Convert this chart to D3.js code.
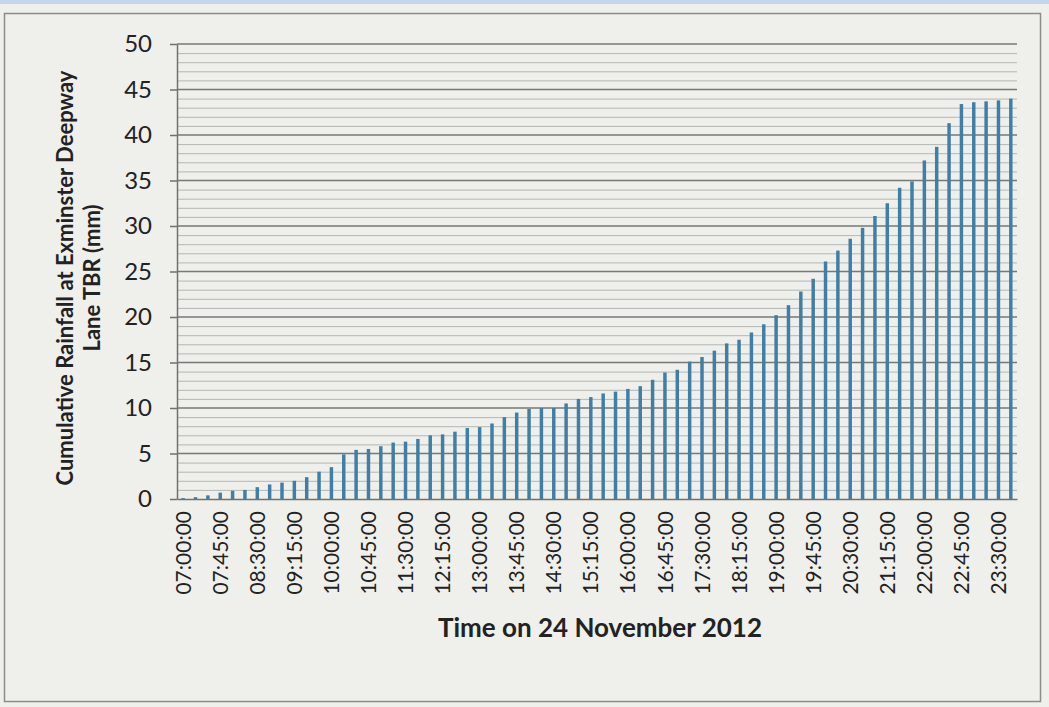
<!DOCTYPE html>
<html>
<head>
<meta charset="utf-8">
<script src="https://cdn.jsdelivr.net/npm/d3@7"></script>
<style>
  body { margin: 0; background: #efefeb; }
  svg { display: block; }
</style>
</head>
<body>
<div id="chart"></div>
<script>
(function(d3) {
    'use strict'

    // categories: 15 minute steps on 24 Nov 2012
    var times = [
        '07:00:00', '07:15:00', '07:30:00', '07:45:00', '08:00:00', '08:15:00', '08:30:00', '08:45:00',
        '09:00:00', '09:15:00', '09:30:00', '09:45:00', '10:00:00', '10:15:00', '10:30:00', '10:45:00',
        '11:00:00', '11:15:00', '11:30:00', '11:45:00', '12:00:00', '12:15:00', '12:30:00', '12:45:00',
        '13:00:00', '13:15:00', '13:30:00', '13:45:00', '14:00:00', '14:15:00', '14:30:00', '14:45:00',
        '15:00:00', '15:15:00', '15:30:00', '15:45:00', '16:00:00', '16:15:00', '16:30:00', '16:45:00',
        '17:00:00', '17:15:00', '17:30:00', '17:45:00', '18:00:00', '18:15:00', '18:30:00', '18:45:00',
        '19:00:00', '19:15:00', '19:30:00', '19:45:00', '20:00:00', '20:15:00', '20:30:00', '20:45:00',
        '21:00:00', '21:15:00', '21:30:00', '21:45:00', '22:00:00', '22:15:00', '22:30:00', '22:45:00',
        '23:00:00', '23:15:00', '23:30:00', '23:45:00'
    ];

    // cumulative rainfall (mm)
    var rainfall = [
        0.1, 0.2, 0.4, 0.7, 0.9, 1.0, 1.3, 1.6, 1.8, 2.0, 2.4, 3.0,
        3.5, 4.9, 5.4, 5.5, 5.8, 6.2, 6.3, 6.6, 7.0, 7.1, 7.4, 7.8,
        7.9, 8.3, 9.0, 9.5, 9.9, 10.0, 10.0, 10.5, 11.0, 11.2, 11.6, 11.8,
        12.1, 12.4, 13.1, 13.9, 14.2, 15.1, 15.6, 16.3, 17.1, 17.5, 18.3, 19.2,
        20.2, 21.3, 22.8, 24.2, 26.1, 27.3, 28.6, 29.8, 31.1, 32.5, 34.2, 34.9,
        37.2, 38.7, 41.3, 43.4, 43.6, 43.7, 43.8, 44.0
    ];

    var xTickLabels = [
        '07:00:00', '07:45:00', '08:30:00', '09:15:00', '10:00:00', '10:45:00', '11:30:00', '12:15:00',
        '13:00:00', '13:45:00', '14:30:00', '15:15:00', '16:00:00', '16:45:00', '17:30:00', '18:15:00',
        '19:00:00', '19:45:00', '20:30:00', '21:15:00', '22:00:00', '22:45:00', '23:30:00'
    ];
    var yTicks = [0, 5, 10, 15, 20, 25, 30, 35, 40, 45, 50];

    var yTitle = ['Cumulative Rainfall at Exminster Deepway', 'Lane TBR (mm)'];
    var xTitle = 'Time on 24 November 2012';

    var width = 1049;
    var height = 707;
    var left = 177, right = 1017, top = 44, bottom = 499;

    var svg = d3.select('#chart')
        .append('svg')
        .attr('width', width)
        .attr('height', height);

    // page frame
    svg.append('rect')
        .attr('width', width).attr('height', height)
        .attr('fill', '#efefeb');
    svg.append('rect')
        .attr('width', width).attr('height', 4)
        .attr('fill', '#c4d6ec');
    svg.append('rect')
        .attr('x', 4.5).attr('y', 13.5)
        .attr('width', 1036).attr('height', 688)
        .attr('fill', 'none')
        .attr('stroke', '#8c8c8a')
        .attr('stroke-width', 1.5);

    var x = d3.scaleBand()
        .domain(times)
        .range([left, right])
        .paddingInner(0.72)
        .paddingOuter(0.36);

    var y = d3.scaleLinear()
        .domain([0, 50])
        .range([bottom, top]);

    // minor gridlines every 1 mm, major every 5 mm
    var minor = d3.range(1, 50).filter(function(v) { return v % 5 !== 0; });

    svg.append('g')
        .selectAll('line')
        .data(minor)
        .enter()
        .append('line')
        .attr('x1', left).attr('x2', right)
        .attr('y1', function(d) { return y(d) + 0.5; })
        .attr('y2', function(d) { return y(d) + 0.5; })
        .attr('stroke', '#b3b7b3')
        .attr('stroke-width', 1);

    svg.append('g')
        .selectAll('line')
        .data(yTicks.slice(1))
        .enter()
        .append('line')
        .attr('x1', left).attr('x2', right)
        .attr('y1', function(d) { return y(d); })
        .attr('y2', function(d) { return y(d); })
        .attr('stroke', '#767976')
        .attr('stroke-width', 1.5);

    // bars
    svg.append('g')
        .selectAll('rect')
        .data(rainfall)
        .enter()
        .append('rect')
        .attr('x', function(d, i) { return x(times[i]); })
        .attr('y', function(d) { return y(d); })
        .attr('width', x.bandwidth())
        .attr('height', function(d) { return y(0) - y(d); })
        .attr('fill', '#3f7ea6');

    // axes
    var yAxis = svg.append('g')
        .attr('transform', 'translate(' + left + ',0)')
        .call(d3.axisLeft(y).tickValues(yTicks).tickSize(7).tickPadding(18).tickSizeOuter(0));

    var xAxis = svg.append('g')
        .attr('transform', 'translate(0,' + bottom + ')')
        .call(d3.axisBottom(x).tickValues(xTickLabels).tickSize(0).tickSizeOuter(0));

    [yAxis, xAxis].forEach(function(g) {
        g.select('.domain').attr('stroke', '#6f726f').attr('stroke-width', 1.5);
        g.selectAll('.tick line').attr('stroke', '#6f726f').attr('stroke-width', 1.5);
        g.selectAll('text')
            .attr('fill', '#222')
            .style('font-family', 'Lato, sans-serif');
    });

    yAxis.selectAll('text').style('font-size', '24px');

    xAxis.selectAll('text')
        .style('font-size', '21px')
        .style('text-anchor', 'end')
        .attr('transform', 'rotate(-90)')
        .attr('x', -12)
        .attr('y', 0)
        .attr('dy', '0.36em');

    // titles
    svg.append('text')
        .attr('x', 600)
        .attr('y', 637)
        .attr('text-anchor', 'middle')
        .attr('fill', '#222')
        .style('font-family', 'Lato, sans-serif')
        .style('font-weight', 700)
        .style('font-size', '26px')
        .text(xTitle);

    svg.append('g')
        .attr('transform', 'translate(0,278) rotate(-90)')
        .selectAll('text')
        .data(yTitle)
        .enter()
        .append('text')
        .attr('x', 0)
        .attr('y', function(d, i) { return 73 + i * 27; })
        .attr('text-anchor', 'middle')
        .attr('fill', '#222')
        .style('font-family', 'Lato, sans-serif')
        .style('font-weight', 700)
        .style('font-size', '22px')
        .text(function(d) { return d; });

})(window.d3);
</script>
</body>
</html>
